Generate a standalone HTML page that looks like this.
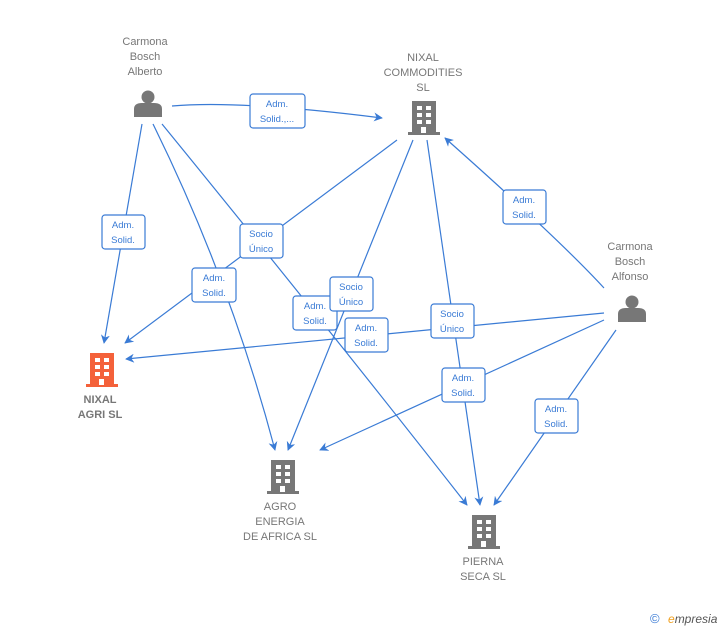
<!DOCTYPE html>
<html><head><meta charset="utf-8"><style>
body{margin:0;background:#fff;}
svg{display:block;font-family:"Liberation Sans",sans-serif;}
.n{fill:#777;font-size:11px;text-anchor:middle;}
.l{fill:#3a7bd5;font-size:9.5px;text-anchor:middle;}
.e{stroke:#3a7bd5;stroke-width:1.2;fill:none;}
.b{fill:#fff;stroke:#3a7bd5;stroke-width:1.2;}
</style></head><body>
<svg width="728" height="630" viewBox="0 0 728 630">
<defs>
<marker id="a" viewBox="0 0 10 10" refX="9" refY="5" markerWidth="9" markerHeight="9" orient="auto" markerUnits="userSpaceOnUse"><path d="M0,0 L10,5 L0,10 L3,5 Z" fill="#3a7bd5"/></marker>
<g id="bld"><rect x="-12" y="-17" width="24" height="32"/><rect x="-16" y="14" width="32" height="3"/></g>
<g id="win" fill="#fff"><rect x="-7" y="-12" width="5" height="4"/><rect x="2" y="-12" width="5" height="4"/><rect x="-7" y="-5" width="5" height="4"/><rect x="2" y="-5" width="5" height="4"/><rect x="-7" y="2" width="5" height="4"/><rect x="2" y="2" width="5" height="4"/><rect x="-3" y="9" width="5" height="6"/></g>
<g id="per" fill="#777"><circle cx="0" cy="-7" r="6.5"/><path d="M-14,13 L-14,5 Q-14,-1 -6,-1 L6,-1 Q14,-1 14,5 L14,13 Z"/></g>
</defs>
<g class="e" marker-end="url(#a)">
<path d="M172,106 Q240,100 382,118"/>
<path d="M142,124 L104,343"/>
<path d="M153,124 Q230,280 275,450"/>
<path d="M162,124 Q330,330 467,505"/>
<path d="M397,140 L125,343"/>
<path d="M413,140 L288,450"/>
<path d="M427,140 L480,505"/>
<path d="M604,288 Q560,240 445,138"/>
<path d="M604,313 L126,359"/>
<path d="M604,320 L320,450"/>
<path d="M616,330 L494,505"/>
</g>
<g>
<rect class="b" x="250" y="94" width="55" height="34" rx="3"/><text class="l" x="277" y="107">Adm.</text><text class="l" x="277" y="122">Solid.,...</text>
<rect class="b" x="102" y="215" width="43" height="34" rx="3"/><text class="l" x="123" y="228">Adm.</text><text class="l" x="123" y="243">Solid.</text>
<rect class="b" x="240" y="224" width="43" height="34" rx="3"/><text class="l" x="261" y="237">Socio</text><text class="l" x="261" y="252">Único</text>
<rect class="b" x="192" y="268" width="44" height="34" rx="3"/><text class="l" x="214" y="281">Adm.</text><text class="l" x="214" y="296">Solid.</text>
<rect class="b" x="503" y="190" width="43" height="34" rx="3"/><text class="l" x="524" y="203">Adm.</text><text class="l" x="524" y="218">Solid.</text>
<rect class="b" x="293" y="296" width="44" height="34" rx="3"/><text class="l" x="315" y="309">Adm.</text><text class="l" x="315" y="324">Solid.</text>
<rect class="b" x="330" y="277" width="43" height="34" rx="3"/><text class="l" x="351" y="290">Socio</text><text class="l" x="351" y="305">Único</text>
<rect class="b" x="345" y="318" width="43" height="34" rx="3"/><text class="l" x="366" y="331">Adm.</text><text class="l" x="366" y="346">Solid.</text>
<rect class="b" x="431" y="304" width="43" height="34" rx="3"/><text class="l" x="452" y="317">Socio</text><text class="l" x="452" y="332">Único</text>
<rect class="b" x="442" y="368" width="43" height="34" rx="3"/><text class="l" x="463" y="381">Adm.</text><text class="l" x="463" y="396">Solid.</text>
<rect class="b" x="535" y="399" width="43" height="34" rx="3"/><text class="l" x="556" y="412">Adm.</text><text class="l" x="556" y="427">Solid.</text>
</g>
<use href="#per" x="148" y="104"/>
<text class="n" x="145" y="45">Carmona</text><text class="n" x="145" y="60">Bosch</text><text class="n" x="145" y="75">Alberto</text>
<use href="#per" x="632" y="309"/>
<text class="n" x="630" y="250">Carmona</text><text class="n" x="630" y="265">Bosch</text><text class="n" x="630" y="280">Alfonso</text>
<g fill="#777"><use href="#bld" x="424" y="118"/></g><use href="#win" x="424" y="118"/>
<text class="n" x="423" y="61">NIXAL</text><text class="n" x="423" y="76">COMMODITIES</text><text class="n" x="423" y="91">SL</text>
<g fill="#f4613a"><use href="#bld" x="102" y="370"/></g><use href="#win" x="102" y="370"/>
<text class="n" x="100" y="403" style="font-weight:bold">NIXAL</text><text class="n" x="100" y="418" style="font-weight:bold">AGRI  SL</text>
<g fill="#777"><use href="#bld" x="283" y="477"/></g><use href="#win" x="283" y="477"/>
<text class="n" x="280" y="510">AGRO</text><text class="n" x="280" y="525">ENERGIA</text><text class="n" x="280" y="540">DE AFRICA  SL</text>
<g fill="#777"><use href="#bld" x="484" y="532"/></g><use href="#win" x="484" y="532"/>
<text class="n" x="483" y="565">PIERNA</text><text class="n" x="483" y="580">SECA  SL</text>
<text x="650" y="623" style="font-size:13px;fill:#3a7bd5">©</text>
<text x="668" y="623" style="font-size:12px;fill:#555;font-style:italic"><tspan fill="#f0a020">e</tspan>mpresia</text>
</svg>
</body></html>
